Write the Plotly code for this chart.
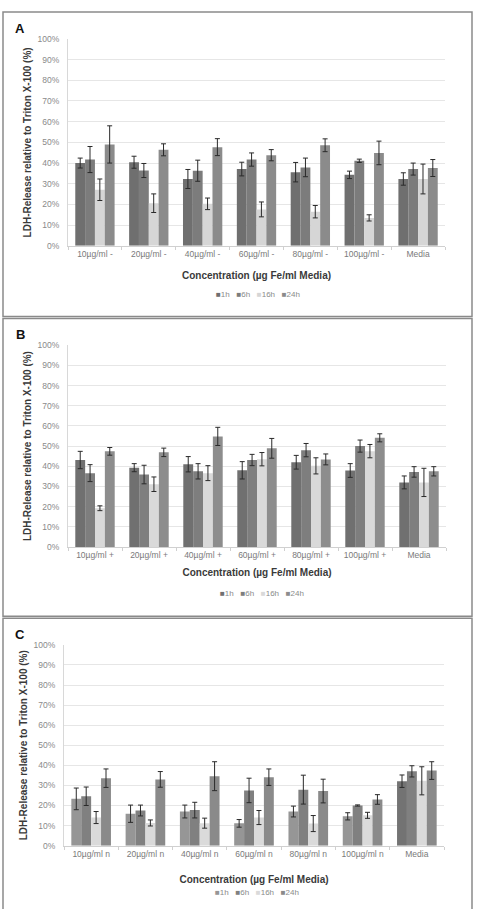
import plotly.graph_objects as go

W, H = 487, 909

series = ["1h", "6h", "16h", "24h"]

cats_A = ["10µg/ml -", "20µg/ml -", "40µg/ml -", "60µg/ml -", "80µg/ml -", "100µg/ml -", "Media"]
cats_B = ["10µg/ml +", "20µg/ml +", "40µg/ml +", "60µg/ml +", "80µg/ml +", "100µg/ml +", "Media"]
cats_C = ["10µg/ml n", "20µg/ml n", "40µg/ml n", "60µg/ml n", "80µg/ml n", "100µg/ml n", "Media"]

A_1h = [40.0, 40.4, 32.3, 37.1, 35.6, 34.3, 32.3]
A_1h_err = [2.4, 2.9, 4.6, 3.3, 4.7, 1.8, 3.0]
A_6h = [41.7, 36.4, 36.3, 41.7, 37.9, 41.1, 37.1]
A_6h_err = [6.3, 3.4, 5.1, 3.2, 4.5, 0.8, 2.9]
A_16h = [27.1, 20.6, 20.3, 17.6, 16.5, 13.5, 32.3]
A_16h_err = [5.2, 4.5, 2.8, 3.6, 3.0, 1.5, 7.2]
A_24h = [49.0, 46.4, 47.7, 43.8, 48.6, 44.9, 37.6]
A_24h_err = [9.0, 2.9, 4.1, 2.7, 3.1, 5.7, 4.1]

B_1h = [43.1, 39.3, 41.0, 38.0, 42.0, 37.9, 32.0]
B_1h_err = [4.3, 2.0, 3.8, 4.3, 3.4, 3.4, 3.2]
B_6h = [36.6, 35.9, 37.5, 43.1, 48.0, 50.0, 37.2]
B_6h_err = [4.2, 4.6, 3.8, 2.8, 3.3, 3.0, 2.6]
B_16h = [19.2, 31.1, 36.6, 43.5, 40.2, 47.5, 32.0]
B_16h_err = [1.2, 3.6, 3.7, 3.3, 4.0, 3.3, 7.0]
B_24h = [47.4, 46.9, 54.8, 48.9, 43.4, 54.1, 37.5]
B_24h_err = [1.9, 2.1, 4.5, 4.9, 2.7, 2.0, 2.3]

C_1h = [23.3, 15.9, 17.0, 11.1, 17.0, 14.6, 32.1]
C_1h_err = [5.4, 4.3, 3.2, 1.9, 2.7, 1.8, 3.1]
C_6h = [24.6, 17.5, 17.7, 27.5, 27.9, 20.0, 37.0]
C_6h_err = [4.6, 2.7, 3.9, 6.1, 7.2, 0.3, 2.8]
C_16h = [14.0, 11.3, 11.2, 14.0, 11.0, 15.1, 32.3]
C_16h_err = [3.0, 1.5, 2.5, 3.5, 4.0, 1.5, 7.0]
C_24h = [33.6, 33.0, 34.6, 34.1, 27.2, 23.0, 37.4]
C_24h_err = [4.6, 3.9, 7.2, 4.1, 5.9, 2.4, 4.4]

y_ticks = [0, 10, 20, 30, 40, 50, 60, 70, 80, 90, 100]

panels = [
    dict(name="A", cats=cats_A,
         vals=[A_1h, A_6h, A_16h, A_24h], errs=[A_1h_err, A_6h_err, A_16h_err, A_24h_err],
         colors=["#6f6f6f", "#7c7c7c", "#d6d6d6", "#8b8b8b"],
         px=(68, 445), py=(34.3, 243.5), box=(3, 7, 472, 315),
         letter=(20, 24), legend=(258, 293), xstand=13, ystand=4),
    dict(name="B", cats=cats_B,
         vals=[B_1h, B_6h, B_16h, B_24h], errs=[B_1h_err, B_6h_err, B_16h_err, B_24h_err],
         colors=["#707070", "#7e7e7e", "#d9d9d9", "#8d8d8d"],
         px=(68, 446), py=(344, 548), box=(3, 317, 472, 618),
         letter=(20, 333), legend=(262, 595), xstand=9, ystand=4),
    dict(name="C", cats=cats_C,
         vals=[C_1h, C_6h, C_16h, C_24h], errs=[C_1h_err, C_6h_err, C_16h_err, C_24h_err],
         colors=[["#969696"] * 6 + ["#737373"], "#808080", "#dadada", "#8a8a8a"],
         px=(64, 444), py=(647, 850), box=(3, 620, 472, 915),
         letter=(20, 636), legend=(257, 897), xstand=18, ystand=4),
]

FONT = "Liberation Sans, Arial, sans-serif"
legend_colors = {"A": ["#6f6f6f", "#7c7c7c", "#d6d6d6", "#8b8b8b"],
                 "B": ["#707070", "#7e7e7e", "#d9d9d9", "#8d8d8d"],
                 "C": ["#969696", "#808080", "#dadada", "#8a8a8a"]}

fig = go.Figure()
shapes = []
annotations = []
layout = {}

for i, p in enumerate(panels):
    k = "" if i == 0 else str(i + 1)
    xa, ya = "x" + k, "y" + k
    for s, v, e, c in zip(series, p["vals"], p["errs"], p["colors"]):
        fig.add_trace(go.Bar(
            x=p["cats"], y=v, name=s, xaxis=xa, yaxis=ya,
            marker=dict(color=c, line=dict(width=0)),
            error_y=dict(type="data", array=e, visible=True, color="#2a2a2a",
                         thickness=1, width=2.5),
            showlegend=False,
        ))
    x0, x1 = p["px"]
    yt, yb = p["py"]
    layout["xaxis" + k] = dict(
        domain=[x0 / W, x1 / W], anchor=ya, type="category",
        showline=True, linecolor="#d0d0d0", linewidth=1,
        ticks="outside", tickson="boundaries", ticklen=3, tickcolor="#d0d0d0",
        tickfont=dict(size=8.5, color="#7a7a7a", family=FONT),
        showgrid=False,
        title=dict(text="<b>Concentration (µg Fe/ml Media)</b>",
                   font=dict(size=10, color="#3a3a3a", family=FONT),
                   standoff=p["xstand"]),
    )
    layout["yaxis" + k] = dict(
        domain=[1 - yb / H, 1 - yt / H], anchor=xa, range=[0, 100],
        tickvals=y_ticks, ticktext=[f"{t}%" for t in y_ticks],
        showline=True, linecolor="#d8d8d8", linewidth=1,
        showgrid=True, gridcolor="#e6e6e6", gridwidth=1,
        zeroline=False, ticks="", ticklabelstandoff=6,
        tickfont=dict(size=8.5, color="#8a8a8a", family=FONT),
        title=dict(text="<b>LDH-Release relative to Triton X-100 (%)</b>",
                   font=dict(size=10, color="#3a3a3a", family=FONT),
                   standoff=p["ystand"]),
    )
    bx0, by0, bx1, by1 = p["box"]
    shapes.append(dict(type="rect", xref="paper", yref="paper",
                       x0=bx0 / W, x1=bx1 / W, y0=1 - by1 / H, y1=1 - by0 / H,
                       line=dict(color="#8a8a8a", width=1.5), fillcolor="rgba(0,0,0,0)"))
    lx, ly = p["letter"]
    annotations.append(dict(xref="paper", yref="paper", x=lx / W, y=1 - ly / H,
                            xanchor="center", yanchor="middle",
                            text=f"<b>{p['name']}</b>", showarrow=False,
                            font=dict(size=13, color="#111", family=FONT)))
    legx, legy = p["legend"]
    parts = []
    for s, c in zip(series, legend_colors[p["name"]]):
        parts.append(f'<span style="color:{c}">■</span>{s}')
    annotations.append(dict(xref="paper", yref="paper", x=legx / W, y=1 - legy / H,
                            xanchor="center", yanchor="middle",
                            text="   ".join(parts), showarrow=False,
                            font=dict(size=8, color="#8a8a8a", family=FONT)))

fig.update_layout(
    width=W, height=H, margin=dict(l=0, r=0, t=0, b=0),
    paper_bgcolor="white", plot_bgcolor="white",
    barmode="group", bargap=0.27, bargroupgap=0,
    shapes=shapes, annotations=annotations, showlegend=False,
    font=dict(family=FONT),
    **layout,
)

fig.write_html("out.html")
